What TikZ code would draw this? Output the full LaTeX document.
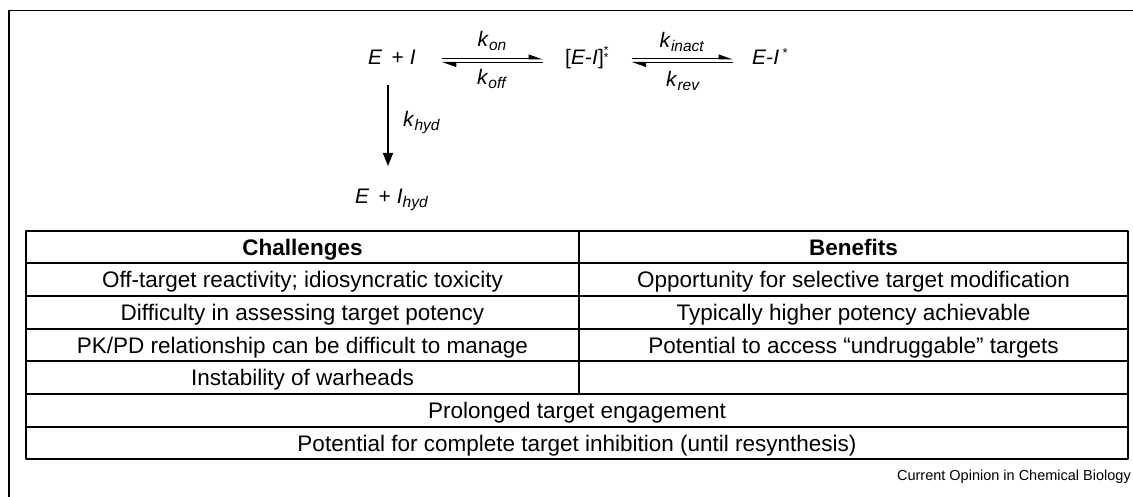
\documentclass[tikz,border=0pt]{standalone}
\usepackage{fontspec}
\setmainfont{Liberation Sans}
\usetikzlibrary{arrows.meta}
\tikzset{chem/.style={anchor=base west,inner sep=0pt},
  rate/.style={anchor=base,inner sep=0pt},
  cell/.style={anchor=base,inner sep=0pt,font=\fontsize{22.5}{24}\selectfont},
  hcell/.style={cell,font=\fontsize{22.5}{24}\selectfont\bfseries},
  fwd/.style={-{Triangle[left,length=13pt,width=9pt]},line width=1pt},
  down/.style={-{Triangle[length=13pt,width=10pt]},line width=1.5pt},
  rule/.style={line width=2pt}}
\newcommand{\lo}[1]{\raisebox{-4pt}{\fontsize{15.5}{16}\selectfont\textit{#1}}}
\newcommand{\rk}[1]{\textit{k}\lo{#1}}

\begin{document}
\begin{tikzpicture}[x=1pt,y=-1pt,line join=round,font=\fontsize{21}{24}\selectfont]
\useasboundingbox (0,0) rectangle (1133,497);
% --- frame
\draw[line width=1.5pt] (1133,10.5) -- (9,10.5) -- (9,497);
% --- reaction scheme
\node[chem] (ei) at (368,65) {\textit{E}\, + \textit{I}};
\node[chem] (eit) at (565,65) {[\textit{E}-\textit{I}]\makebox[0pt][l]{\raisebox{10pt}{\fontsize{12}{12}\selectfont *}}\raisebox{3pt}{\fontsize{12}{12}\selectfont *}};
\node[chem] (eis) at (752,65) {\textit{E}-\textit{I}\,\raisebox{7pt}{\fontsize{13}{13}\selectfont *}};
\node[chem] (eh) at (355,204) {\textit{E}\, + \textit{I}\lo{hyd}};
\node[rate] (kon) at (492,47) {\rk{on}};
\node[rate] (koff) at (492,85) {\rk{off}};
\node[rate] (kin) at (682,48) {\rk{inact}};
\node[rate] (krev) at (683,87) {\rk{rev}};
\node[chem] (khyd) at (403,127) {\rk{hyd}};
\draw[fwd] ([shift={(26,-6)}]ei.base east) -- ([shift={(-22,-6)}]eit.base west);
\draw[fwd] ([shift={(-22,-2.5)}]eit.base west) -- ([shift={(26,-2.5)}]ei.base east);
\draw[fwd] ([shift={(23,-6)}]eit.base east) -- ([shift={(-19,-6)}]eis.base west);
\draw[fwd] ([shift={(-19,-2.5)}]eis.base west) -- ([shift={(23,-2.5)}]eit.base east);
\draw[down] ([shift={(20,20)}]ei.base west) -- ([shift={(33,-38)}]eh.base west);
% --- table
\draw[rule] (26,230.7) rectangle (1128,459.3);
\foreach \i in {1,...,6} \draw[rule] (26,230.7+32.66*\i) -- (1128,230.7+32.66*\i);
\draw[rule] (579,230.7) -- (579,394);
\node[hcell] (hc) at (302.5,255) {Challenges};
\node[hcell] (hb) at (853.5,255) {Benefits};
\node[cell] (c1) at (302.5,287.7) {Off-target reactivity; idiosyncratic toxicity};
\node[cell] (b1) at (853.5,287.7) {Opportunity for selective target modification};
\node[cell] (c2) at (302.5,320.3) {Difficulty in assessing target potency};
\node[cell] (b2) at (853.5,320.3) {Typically higher potency achievable};
\node[cell] (c3) at (302.5,353) {PK/PD relationship can be difficult to manage};
\node[cell] (b3) at (853.5,353) {Potential to access “undruggable” targets};
\node[cell] (c4) at (302.5,385.7) {Instability of warheads};
\node[cell] (f1) at (577,418.3) {Prolonged target engagement};
\node[cell] (f2) at (577,451) {Potential for complete target inhibition (until resynthesis)};
% --- source
\node[anchor=base east,inner sep=0pt,font=\fontsize{14.5}{16}\selectfont] (src) at (1131,480) {Current Opinion in Chemical Biology};
\end{tikzpicture}
\end{document}
